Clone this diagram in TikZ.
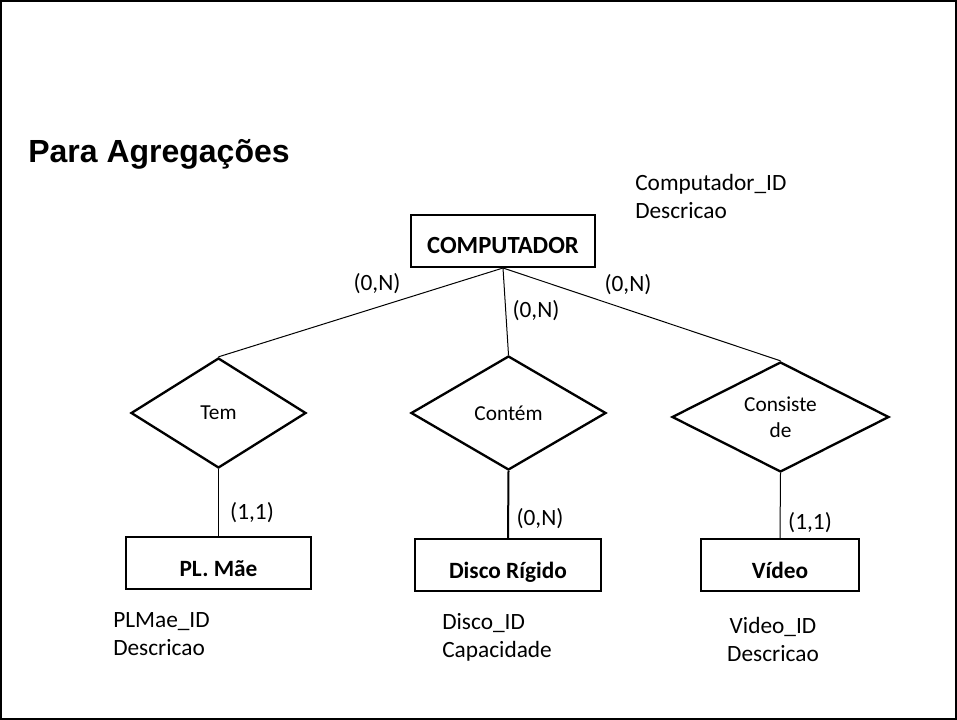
\documentclass[tikz,border=0pt]{standalone}
\usepackage{fontspec}
\setmainfont{Carlito}
\newfontfamily\titlefont{Liberation Sans}
\usetikzlibrary{shapes.geometric}
\begin{document}
\begin{tikzpicture}[x=0.75pt,y=-0.75pt,
 ent/.style={draw,line width=1.5pt,minimum height=39pt,inner sep=0pt,text height=20pt,text depth=0.3pt,font=\fontsize{17.5}{21}\selectfont\bfseries},
 rel/.style={draw,diamond,aspect=2,line width=1.75pt,inner sep=0pt,font=\fontsize{16}{19.5}\selectfont,align=center},
 card/.style={font=\fontsize{17.5}{21}\selectfont,inner sep=0pt},
 attr/.style={font=\fontsize{17.5}{21}\selectfont,inner sep=0pt,align=left,anchor=west},
 thinline/.style={line width=0.75pt},
 thickline/.style={line width=1.5pt}]
\useasboundingbox (0,0) rectangle (957,720);
\draw[line width=1.5pt] (1,1) rectangle (956,719);
\node[anchor=base west,inner sep=0pt,font=\titlefont\fontsize{24}{28}\selectfont\bfseries] (title) at (28,163) {Para Agregações};

\node[ent,minimum width=138pt,font=\fontsize{18.5}{22}\selectfont\bfseries,text height=19.5pt] (comp) at (503,241) {COMPUTADOR};
\node[rel,minimum width=131.25pt,minimum height=82.5pt] (tem) at (218.5,413) {Tem};
\node[rel,minimum width=146.25pt,minimum height=85.5pt] (cont) at (508.5,413) {Contém};
\node[rel,minimum width=162.75pt,minimum height=82.5pt] (cons) at (780.5,417) {Consiste\\de};
\node[ent,minimum width=138.75pt] (plm) at (218.5,563) {PL. Mãe};
\node[ent,minimum width=139.5pt] (disco) at (508,565) {Disco Rígido};
\node[ent,minimum width=118.5pt] (video) at (780,565) {Vídeo};

\draw[thinline] (comp.south) -- (tem.north);
\draw[thinline] (comp.south) -- (cont.north);
\draw[thinline] (comp.south) -- (cons.north);
\draw[thinline] (tem.south) -- (plm.north);
\draw[thickline] (cont.south) -- (disco.north);
\draw[thinline] (cons.south) -- (video.north);

\node[card] (c1) at (377,284) {(0,N)};
\node[card] (c2) at (536,311) {(0,N)};
\node[card] (c3) at (628,285) {(0,N)};
\node[card] (c4) at (252,513) {(1,1)};
\node[card] (c5) at (540,519) {(0,N)};
\node[card] (c6) at (810,523) {(1,1)};

\node[attr] (a1) at (635,196) {Computador\_ID\\Descricao};
\node[attr] (a2) at (113,634) {PLMae\_ID\\Descricao};
\node[attr] (a3) at (442,637.5) {Disco\_ID\\Capacidade};
\node[attr,anchor=center,align=center] (a4) at (773,639) {Video\_ID\\Descricao};
\end{tikzpicture}
\end{document}
